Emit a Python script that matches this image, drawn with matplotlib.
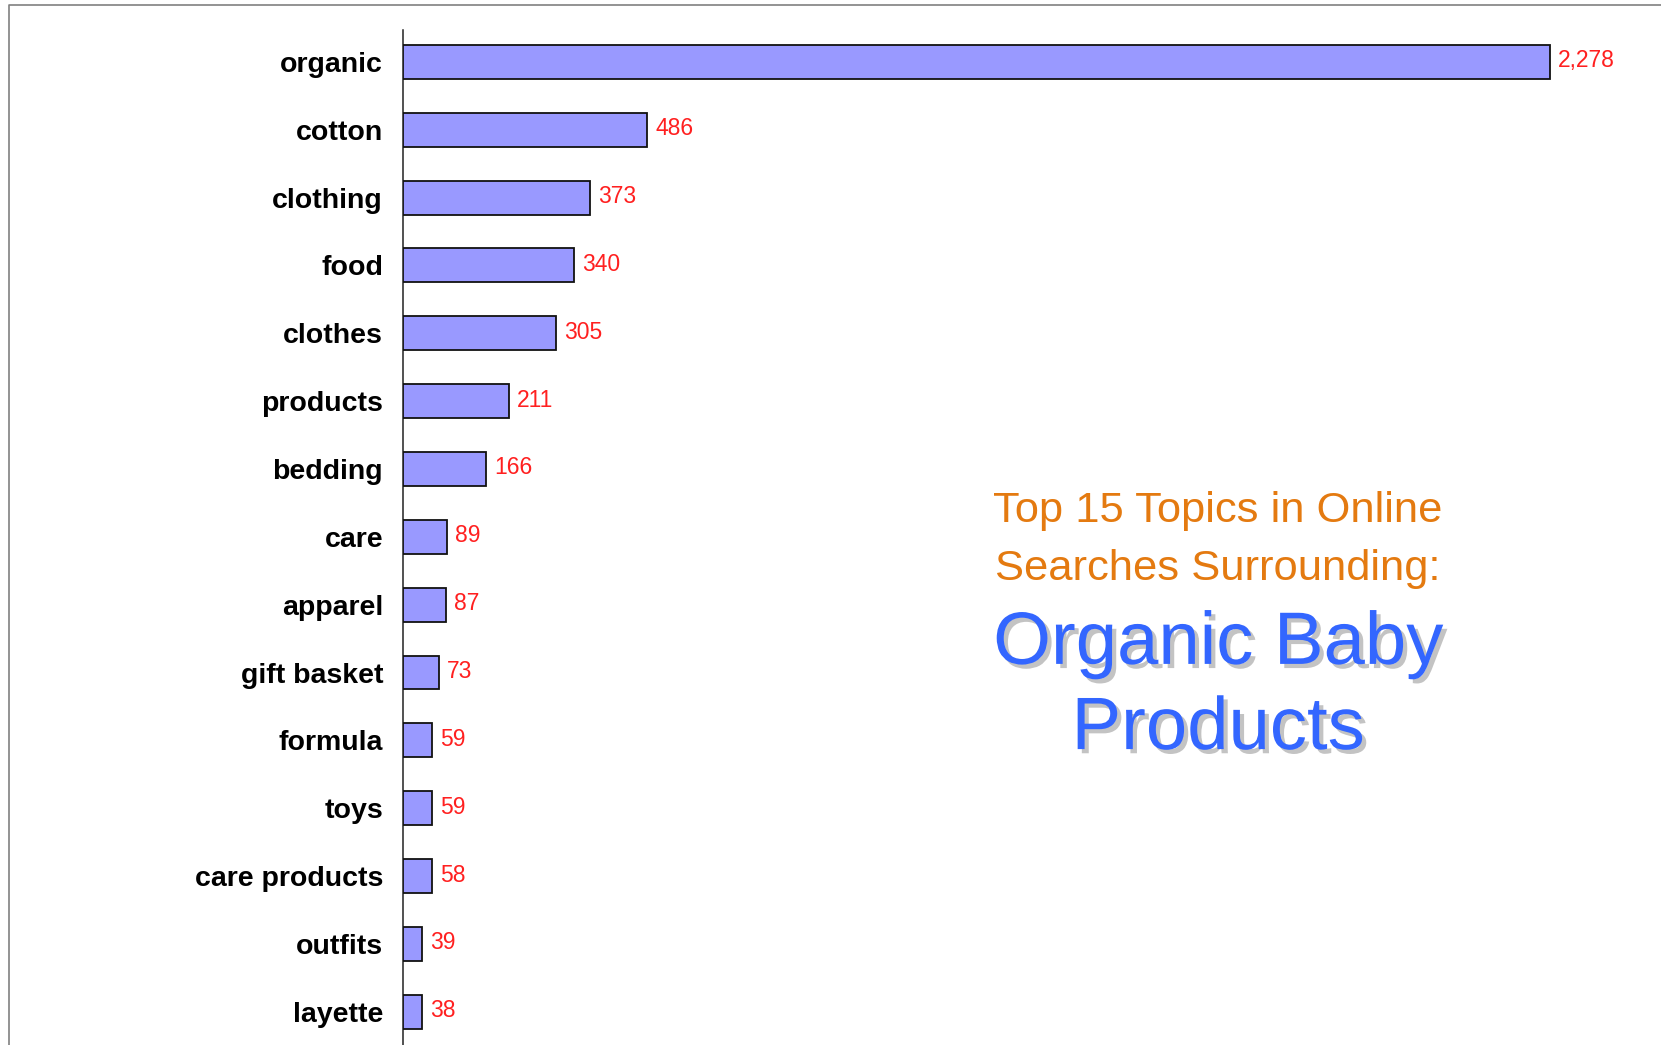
import matplotlib
matplotlib.use("Agg")
import matplotlib.pyplot as plt
import matplotlib.patheffects as pe
from matplotlib.lines import Line2D

categories = ["organic", "cotton", "clothing", "food", "clothes", "products", "bedding",
              "care", "apparel", "gift basket", "formula", "toys", "care products",
              "outfits", "layette"]
values = [2278, 486, 373, 340, 305, 211, 166, 89, 87, 73, 59, 59, 58, 39, 38]
title_small = "Top 15 Topics in Online\nSearches Surrounding:"
title_big = "Organic Baby\nProducts"

W, H = 1661, 1045
fig = plt.figure(figsize=(W / 100, H / 100), dpi=100)
fig.patch.set_facecolor("white")

# axes placement in pixels
ax_left, ax_right = 402.5, 1661
ax_top, ax_bottom = 30, 1045
ax = fig.add_axes([ax_left / W, 1 - ax_bottom / H, (ax_right - ax_left) / W, (ax_bottom - ax_top) / H])

ypos = list(range(len(categories)))
ax.barh(ypos, values, height=0.5, color="#9999FF", edgecolor="#111111", linewidth=1.3, zorder=3)
px_per_unit = (1550 - 402.5) / 2278
ax.set_xlim(0, (ax_right - ax_left) / px_per_unit)
ax.set_ylim(14.49, -0.47)

for y, v in zip(ypos, values):
    ax.annotate(f"{v:,}", xy=(v, y), xytext=(8, 1), textcoords="offset pixels",
                ha="left", va="center", color="#FF2020", fontsize=16.5,
                family="Liberation Sans")

ax.set_yticks(ypos)
ax.set_yticklabels(categories, fontsize=20.5, fontweight="bold", family="Liberation Sans")
ax.tick_params(axis="y", length=0, pad=14)
ax.set_xticks([])
for s in ["top", "right", "bottom"]:
    ax.spines[s].set_visible(False)
ax.spines["left"].set_color("#222222")
ax.spines["left"].set_linewidth(1.1)
ax.set_facecolor("none")

# titles
fig.text(1218 / W, 1 - 540 / H, title_small, ha="center", va="center",
         color="#E47A10", fontsize=31.3, family="Liberation Sans", linespacing=1.55)
fig.text(1218 / W, 1 - 687 / H, title_big, ha="center", va="center",
         color="#3366FF", fontsize=53.5, family="Liberation Sans", linespacing=1.3,
         path_effects=[pe.withSimplePatchShadow(offset=(3, -3), shadow_rgbFace="#888888", alpha=0.5)])

# frame border (top and left)
fig.add_artist(Line2D([8.5 / W, 8.5 / W, 1], [0, 1 - 4.5 / H, 1 - 4.5 / H],
                      transform=fig.transFigure, color="#808080", linewidth=1.2))

fig.savefig("out.png", dpi=100, facecolor="white")
